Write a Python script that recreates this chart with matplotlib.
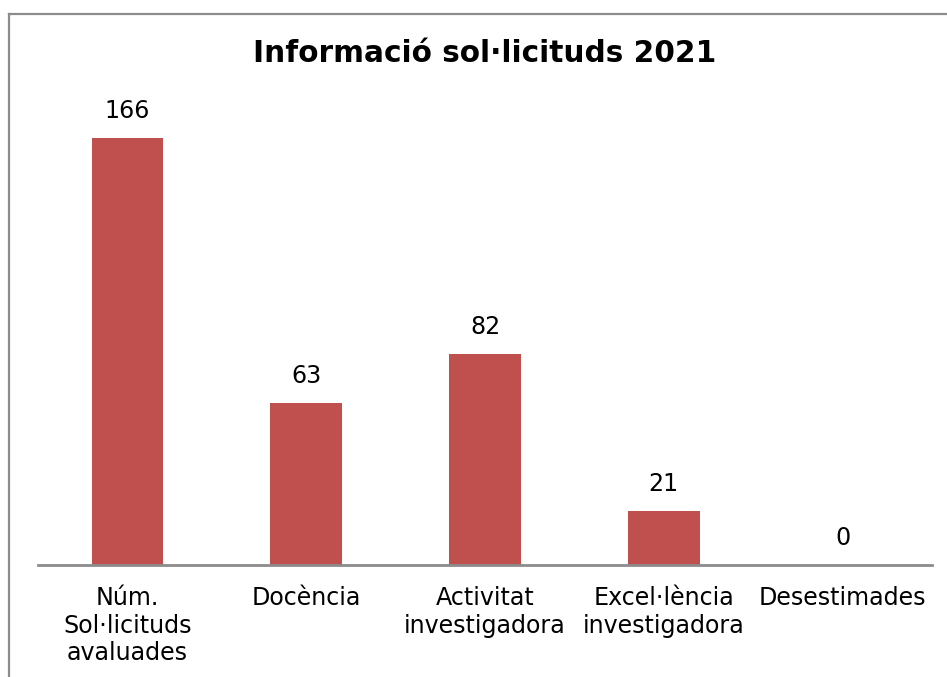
import matplotlib
matplotlib.use("Agg")
import matplotlib.pyplot as plt
from matplotlib.lines import Line2D

categories = ["Núm.\nSol·licituds\navaluades", "Docència", "Activitat\ninvestigadora",
              "Excel·lència\ninvestigadora", "Desestimades"]
values = [166, 63, 82, 21, 0]
title = "Informació sol·licituds 2021"

plt.rcParams['font.family'] = ['DejaVu Sans']
fig = plt.figure(figsize=(9.47, 6.77), dpi=100)
ax = fig.add_axes([38/947, 112/677, 894/947, 463/677])

x = list(range(len(categories)))
bars = ax.bar(x, values, width=0.4, color="#C0504D")
ax.set_xlim(-0.5, len(categories) - 0.5)
ax.set_ylim(0, 180)
for xi, v in zip(x, values):
    ax.annotate(str(v), (xi, v), xytext=(0, 10.5), textcoords="offset points",
                ha="center", va="bottom", fontsize=17.1, color="black")

ax.set_xticks(x)
ax.set_xticklabels(categories, fontsize=17.1, linespacing=1.2)
ax.tick_params(axis="x", length=0, pad=15)
ax.set_yticks([])
for s in ["top", "right", "left"]:
    ax.spines[s].set_visible(False)
ax.spines["bottom"].set_color("#8c8c8c")
ax.spines["bottom"].set_linewidth(2)

fig.text(485/947, 1 - 53/677, title, ha="center", va="center",
         fontsize=21.3, fontweight="bold")

# outer chart border (partially cropped)
fig.add_artist(Line2D([9/947, 9/947], [0, 1 - 13.5/677], transform=fig.transFigure,
                      color="#8c8c8c", lw=1.6))
fig.add_artist(Line2D([9/947, 1], [1 - 13.5/677, 1 - 13.5/677], transform=fig.transFigure,
                      color="#8c8c8c", lw=1.6))

fig.savefig("out.png", dpi=100)
